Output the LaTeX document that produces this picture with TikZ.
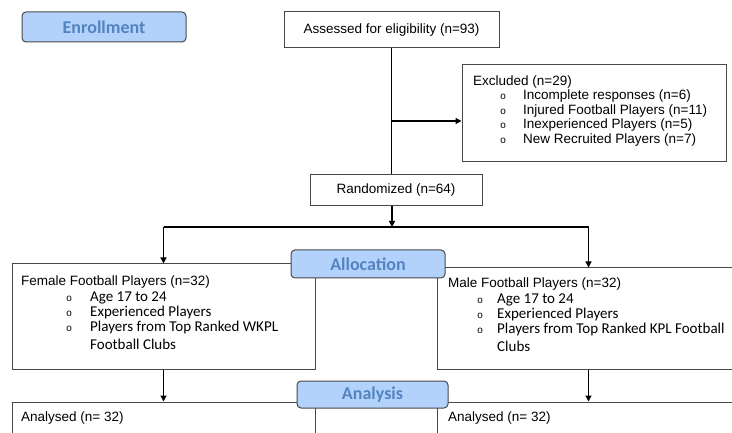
\documentclass[tikz,border=0pt]{standalone}
\usepackage{fontspec}
\setmainfont{Liberation Sans}
\newfontfamily\calibrifont{Carlito}
\newfontfamily\bulletfont{Liberation Mono}
\usetikzlibrary{arrows.meta, positioning, calc}

\definecolor{phaseblue}{RGB}{178, 210, 252}
\definecolor{phasetext}{RGB}{84, 131, 192}
\definecolor{boxline}{RGB}{72, 72, 72}

\newcommand{\boxfont}{\fontsize{13.5}{14.6}\selectfont}
\newcommand{\groupfont}{\fontsize{13.5}{15.3}\selectfont}
\newcommand{\pointfont}{\calibrifont\fontsize{15}{15.3}\selectfont}
\newcommand{\bul}{{\bulletfont\fontsize{10}{10}\selectfont o}}
% indent, gap to text, text
\newcommand{\point}[3]{\hspace*{#1}\makebox[#2][l]{\bul}#3}

\tikzset{
    flowbox/.style={draw=boxline, line width=1pt, rectangle, inner sep=0pt, font=\boxfont},
    phase/.style={draw=boxline, line width=1pt, rectangle, rounded corners=4pt, fill=phaseblue, text=phasetext,
        inner sep=0pt, font=\calibrifont\bfseries\fontsize{18}{20}\selectfont},
    boxtext/.style={inner sep=0pt, align=left, font=\boxfont},
    plainline/.style={line width=1.2pt, draw=black},
    flow/.style={plainline, -{Triangle[length=6pt, width=6pt]}},
}

\begin{document}
\begin{tikzpicture}[x=1pt, y=-1pt]
    \useasboundingbox (0,0) rectangle (732,433);
    \clip (0,0) rectangle (732,433);

    % Enrollment
    \node[phase, minimum width=164pt, minimum height=30pt] (enroll) at (104,27) {Enrollment};
    \node[flowbox, minimum width=215pt, minimum height=36pt] (assess) at (391.5,30) {Assessed for eligibility (n=93)};
    \node[flowbox, minimum width=264pt, minimum height=97pt] (excl) at (594,113.5) {};
    \node[boxtext, anchor=north west] (excltext) at (473,75.2) {
        Excluded (n=29)\\
        \point{27pt}{23pt}{Incomplete responses (n=6)}\\
        \point{27pt}{23pt}{Injured Football Players (n=11)}\\
        \point{27pt}{23pt}{Inexperienced Players (n=5)}\\
        \point{27pt}{23pt}{New Recruited Players (n=7)}
    };
    \node[flowbox, minimum width=172pt, minimum height=31pt] (rand) at (396,190.5) {Randomized (n=64)};
    \coordinate (exclin) at ([yshift=-7.5pt]excl.west);
    \coordinate (fork) at (392,227);

    % Allocation
    \node[flowbox, minimum width=303pt, minimum height=105pt] (female) at (163.5,316.5) {};
    \node[boxtext, anchor=north west, font=\groupfont] (femtext) at (21,276) {
        Female Football Players (n=32)\\
        \point{45pt}{24pt}{\pointfont Age 17 to 24}\\
        \point{45pt}{24pt}{\pointfont Experienced Players}\\
        \point{45pt}{24pt}{\pointfont Players from Top Ranked WKPL}\\[2.5pt]
        \hspace*{69pt}{\pointfont Football Clubs}
    };
    \node[flowbox, minimum width=303pt, minimum height=101pt] (male) at (588.5,318.5) {};
    \node[boxtext, anchor=north west, font=\groupfont] (maletext) at (448,278) {
        Male Football Players (n=32)\\
        \point{29pt}{20pt}{\pointfont Age 17 to 24}\\
        \point{29pt}{20pt}{\pointfont Experienced Players}\\
        \point{29pt}{20pt}{\pointfont Players from Top Ranked KPL Football}\\[2.5pt]
        \hspace*{49pt}{\pointfont Clubs}
    };

    % Analysis
    \node[flowbox, minimum width=303pt, minimum height=76pt] (femres) at (163.5,440) {};
    \node[boxtext, anchor=base west] (femrestext) at (21,421) {Analysed (n= 32)};
    \node[flowbox, minimum width=303pt, minimum height=76pt] (maleres) at (588.5,440) {};
    \node[boxtext, anchor=base west] (malerestext) at (448,421) {Analysed (n= 32)};

    % connectors
    \draw[plainline] (assess.south) -- (assess.south |- rand.north);
    \draw[flow] (assess.south |- exclin) -- (exclin);
    \draw[flow] (rand.south -| fork) -- (fork);
    \draw[plainline] (female.north |- fork) -- (male.north |- fork);
    \draw[flow] (female.north |- fork) -- (female.north);
    \draw[flow] (male.north |- fork) -- (male.north);
    \draw[flow] (female.south) -- (femres.north);
    \draw[flow] (male.south) -- (maleres.north);

    % phase labels
    \node[phase, minimum width=154pt, minimum height=28pt] (alloc) at (368,264) {Allocation};
    \node[phase, minimum width=151pt, minimum height=27pt] (analysis) at (372.5,394.5) {Analysis};
\end{tikzpicture}
\end{document}
